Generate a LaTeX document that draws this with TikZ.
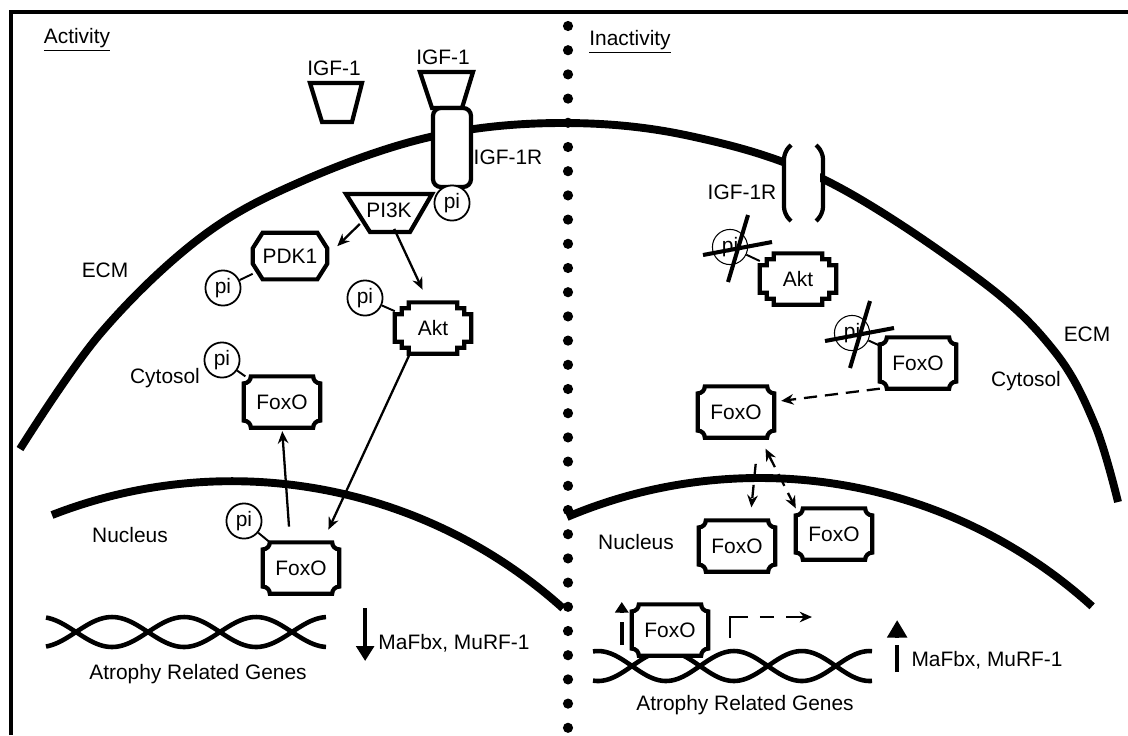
\documentclass[tikz,border=0pt]{standalone}
\usepackage{fontspec}
\setmainfont{Liberation Sans}
\usetikzlibrary{arrows.meta}

\tikzset{
    lbl/.style={font=\fontsize{11.9}{14}\selectfont,inner sep=0pt},
    protein/.style={lbl,fill=white,outer sep=0pt,minimum width=43.5pt,minimum height=29.2pt},
    boxline/.style={line width=2.4pt},
    phospho/.style={lbl,circle,draw,fill=white,line width=1pt,minimum size=20pt},
    link/.style={line width=1.1pt},
    signal/.style={line width=1.3pt,-{Stealth[length=7pt,width=6pt]}},
    shuttle/.style={signal,dash pattern=on 7.5pt off 4.5pt},
    twoway/.style={shuttle,{Stealth[length=7pt,width=6pt]}-{Stealth[length=7pt,width=6pt]}},
    membrane/.style={line width=4.5pt},
    strand/.style={line width=2.6pt},
    fall/.style={line width=2.5pt,-{Triangle[length=8.5pt,width=10pt]}},
    bar/.style={line width=2.6pt},
    head/.style={line width=2.6pt,-{Triangle[length=10pt,width=11pt]}}
}

% outlines drawn round the (borderless) protein nodes
\newcommand\foxoframe[1]{%
    \draw[boxline] ([xshift=4pt]#1.north west) -- ([xshift=-4pt]#1.north east)
        arc[start angle=180,end angle=270,radius=4pt] -- ([yshift=4pt]#1.south east)
        arc[start angle=90,end angle=180,radius=4pt] -- ([xshift=4pt]#1.south west)
        arc[start angle=0,end angle=90,radius=4pt] -- ([yshift=-4pt]#1.north west)
        arc[start angle=270,end angle=360,radius=4pt] -- cycle;}
\newcommand\aktframe[1]{%
    \draw[boxline] ([xshift=8pt]#1.north west) -- ([xshift=-8pt]#1.north east)
        -- ++(0pt,-3.4pt) -- ++(4pt,0pt) -- ++(0pt,-3.4pt) -- ++(4pt,0pt)
        -- ([yshift=6.8pt]#1.south east) -- ++(-4pt,0pt) -- ++(0pt,-3.4pt) -- ++(-4pt,0pt) -- ++(0pt,-3.4pt)
        -- ([xshift=8pt]#1.south west) -- ++(0pt,3.4pt) -- ++(-4pt,0pt) -- ++(0pt,3.4pt) -- ++(-4pt,0pt)
        -- ([yshift=-6.8pt]#1.north west) -- ++(4pt,0pt) -- ++(0pt,3.4pt) -- ++(4pt,0pt) -- cycle;}
\newcommand\octframe[1]{%
    \draw[boxline] ([xshift=5.7pt]#1.north west) -- ([xshift=-5.7pt]#1.north east)
        -- ([yshift=-9pt]#1.north east) -- ([yshift=9pt]#1.south east)
        -- ([xshift=-5.7pt]#1.south east) -- ([xshift=5.7pt]#1.south west)
        -- ([yshift=9pt]#1.south west) -- ([yshift=-9pt]#1.north west) -- cycle;}
\newcommand\nophospho[1]{%
    \draw[line width=2.3pt] (#1.center) ++(18,-32) -- ++(-20,67)
        (#1.center) ++(-27,8) -- ++(69,-13);}

\begin{document}
\begin{tikzpicture}[x=0.02cm,y=-0.02cm]
    \useasboundingbox (0,0) rectangle (1128,735);
    \draw[line width=2.3pt] (11,735) -- (11,12) -- (1128,12);
    \foreach \k in {0,...,29}
        \fill (568,26+24.2*\k) circle[radius=2.9pt];

    % sarcolemma and nuclear envelopes
    \draw[membrane] plot[smooth,tension=.6] coordinates {(20,449) (100,334) (200,238) (300,182)
        (430,137) (560,123) (690,136) (827,181) (980,280) (1055,352) (1095,425) (1118,502)};
    \draw[membrane] (52,515) arc[start angle=248.7,end angle=312,radius=495];
    \draw[membrane] (567,517) arc[start angle=247.1,end angle=312.2,radius=495];

    \node[lbl] (act) at (77,40) {\underline{Activity}};
    \node[lbl] (inact) at (630,42) {\underline{Inactivity}};

    % receptors
    \draw[boxline] (310,83) -- (362,83) -- (352,122) -- (322,122) -- cycle;
    \draw[boxline] (420,72) -- (473,72) -- (462,108) -- (432,108) -- cycle;
    \node[lbl] (igfA) at (334,68) {IGF-1};
    \node[lbl] (igfB) at (443,57) {IGF-1};
    \draw[boxline,fill=white,rounded corners=4.5pt] (433,108) rectangle (471,187);
    \node[lbl] (rcpA) at (508,157) {IGF-1R};

    \fill[white] (786,150) rectangle (820,215);
    \draw[boxline,rounded corners=4pt] (791,145) -- (784,152) -- (784,214) -- (791,221);
    \draw[boxline,rounded corners=4pt] (816,145) -- (823,152) -- (823,214) -- (816,221);
    \node[lbl] (rcpB) at (742,192) {IGF-1R};

    \node[lbl] (ecmA) at (105,270) {ECM};
    \node[lbl] (cytA) at (165,378) {Cytosol};
    \node[lbl] (nucA) at (130,535) {Nucleus};
    \node[lbl] (ecmB) at (1087,334) {ECM};
    \node[lbl] (cytB) at (1026,381) {Cytosol};
    \node[lbl] (nucB) at (636,542) {Nucleus};

    % activity: IGF-1 / PI3K / Akt
    \draw[boxline] (346,194) -- (432,194) -- (410,232) -- (370,232) -- cycle;
    \node[lbl] (pi3k) at (389,210) {PI3K};
    \node[phospho] (phR) at (452,203) {pi};

    \node[protein,minimum width=42.5pt,minimum height=26.6pt] (pdk1) at (290,256) {PDK1};
    \octframe{pdk1}
    \node[phospho] (phD) at (223,288) {pi};
    \draw[link] (phD) -- (pdk1);

    \node[protein] (akt1) at (433,328) {Akt};
    \aktframe{akt1}
    \node[phospho] (phA) at (365,298) {pi};
    \draw[link] (phA) -- (akt1);

    \node[protein] (foxoA) at (282,402) {FoxO};
    \foxoframe{foxoA}
    \node[phospho] (phF) at (222,360) {pi};
    \draw[link] (phF) -- (foxoA);

    \node[protein] (foxoB) at (301,568) {FoxO};
    \foxoframe{foxoB}
    \node[phospho] (phN) at (244,521) {pi};
    \draw[link] (phN) -- (foxoB);

    \draw[signal,shorten <=5pt,shorten >=8pt] (pi3k.south west) -- (pdk1.east);
    \draw[signal,shorten <=7pt,shorten >=8pt] (pi3k.south) -- (akt1.100);
    \draw[signal,shorten >=8pt] (akt1.228) -- (foxoB.50);
    \draw[signal,shorten <=9pt,shorten >=2pt] (foxoB.113) -- (foxoA.south);

    \foreach \s in {1,-1}
        \draw[strand] plot[domain=46:326,samples=90,smooth] (\x,{632+\s*15*sin(2.5*(\x-76))});
    \node[lbl] (genesA) at (198,674) {Atrophy Related Genes};
    \node[lbl] (mafA) at (454,643) {MaFbx, MuRF-1};
    \draw[fall] (mafA.west) ++(-13,-35) -- ++(0,53);

    % inactivity: FoxO shuttles into the nucleus
    \node[protein] (akt2) at (798,279) {Akt};
    \aktframe{akt2}
    \node[phospho,line width=.6pt] (noA) at (730,247) {pi};
    \draw[link] (noA) -- (akt2);
    \nophospho{noA}

    \node[protein] (foxoC) at (918,363) {FoxO};
    \foxoframe{foxoC}
    \node[phospho,line width=.6pt] (noF) at (852,333) {pi};
    \draw[link] (noF) -- (foxoC);
    \nophospho{noF}

    \node[protein] (foxoM) at (736,412) {FoxO};
    \foxoframe{foxoM}
    \node[protein] (foxoL) at (737,546) {FoxO};
    \foxoframe{foxoL}
    \node[protein] (foxoR) at (834,534) {FoxO};
    \foxoframe{foxoR}

    \draw[shuttle,shorten >=4pt] (foxoC.south west) -- (foxoM.15);
    \draw[twoway,shorten <=7pt] (foxoM.-47) -- (foxoR.north west);
    \draw[shuttle,shorten <=15pt,shorten >=7.4pt] (foxoM.-49) -- (foxoL.63);

    \foreach \s in {1,-1}
        \draw[strand] plot[domain=593:872,samples=90,smooth] (\x,{666+\s*15*sin(2.65*(\x-632))});
    \node[protein] (foxoD) at (670,630) {FoxO};
    \foxoframe{foxoD}
    \draw[bar] (foxoD.west) ++(-10,15) -- ++(0,-23);
    \draw[head,-{Triangle[length=6pt,width=7.5pt]}] (foxoD.west) ++(-10,-17) -- ++(0,-11);
    \coordinate (tss) at (730,638);
    \coordinate (tsend) at (812,617);
    \draw[shuttle,dash pattern=on 22pt off 7pt on 8pt off 7pt on 30pt] (tss) |- (tsend);
    \node[lbl] (genesB) at (745,705) {Atrophy Related Genes};
    \node[lbl] (mafB) at (987,660) {MaFbx, MuRF-1};
    \draw[bar] (mafB.west) ++(-14,12) -- ++(0,-27);
    \draw[head] (mafB.west) ++(-14,-22) -- ++(0,-18);
\end{tikzpicture}
\end{document}
